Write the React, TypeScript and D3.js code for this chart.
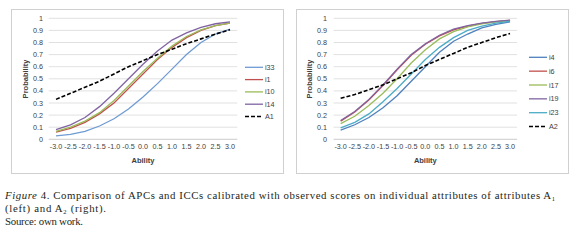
import React from "react";
import * as d3 from "d3";

const abilities = ["-3.0","-2.5","-2.0","-1.5","-1.0","-0.5","0.0","0.5","1.0","1.5","2.0","2.5","3.0"];
const yTicks = [0,0.1,0.2,0.3,0.4,0.5,0.6,0.7,0.8,0.9,1];

const i33 = [0.028,0.04,0.065,0.11,0.17,0.25,0.35,0.46,0.58,0.70,0.80,0.87,0.91];
const i1 = [0.06,0.09,0.14,0.21,0.30,0.42,0.54,0.66,0.76,0.84,0.90,0.94,0.96];
const i10 = [0.065,0.10,0.15,0.22,0.32,0.44,0.56,0.67,0.77,0.85,0.905,0.94,0.96];
const i14 = [0.08,0.12,0.18,0.27,0.38,0.50,0.62,0.73,0.82,0.88,0.925,0.955,0.97];
const A1 = [0.33,0.38,0.43,0.48,0.54,0.60,0.65,0.70,0.745,0.79,0.83,0.87,0.905];

const i4 = [0.075,0.12,0.18,0.26,0.36,0.48,0.60,0.72,0.81,0.87,0.92,0.95,0.97];
const i6 = [0.15,0.225,0.325,0.445,0.575,0.695,0.785,0.855,0.905,0.935,0.958,0.973,0.983];
const i17 = [0.13,0.19,0.28,0.38,0.50,0.63,0.74,0.83,0.89,0.93,0.955,0.97,0.98];
const i19 = [0.155,0.23,0.33,0.45,0.58,0.70,0.79,0.86,0.91,0.94,0.96,0.975,0.985];
const i23 = [0.095,0.14,0.21,0.31,0.42,0.54,0.66,0.76,0.84,0.90,0.935,0.96,0.975];
const A2 = [0.34,0.37,0.41,0.45,0.50,0.55,0.61,0.66,0.71,0.76,0.80,0.84,0.875];

type S = { name: string; values: number[]; color: string; dash?: string; width?: number };

const leftSeries: S[] = [
  { name: "i33", values: i33, color: "#6F9BD3" },
  { name: "i1", values: i1, color: "#C0504D" },
  { name: "i10", values: i10, color: "#9BBB59" },
  { name: "i14", values: i14, color: "#8064A2" },
  { name: "A1", values: A1, color: "#000000", dash: "4,2", width: 1.6 },
];
const rightSeries: S[] = [
  { name: "i4", values: i4, color: "#4F81BD" },
  { name: "i6", values: i6, color: "#C0504D" },
  { name: "i17", values: i17, color: "#9BBB59" },
  { name: "i19", values: i19, color: "#8064A2" },
  { name: "i23", values: i23, color: "#4BACC6" },
  { name: "A2", values: A2, color: "#000000", dash: "4,2", width: 1.6 },
];

const FONT = "'Liberation Sans', Arial, sans-serif";

function Chart(props: {
  fx: number; plotL: number; plotR: number; yLabX: number; probX: number;
  series: S[]; legX: number; legY0: number; legStep: number;
}) {
  const { fx, plotL, plotR, yLabX, probX, series, legX, legY0, legStep } = props;
  const x = d3.scalePoint<string>().domain(abilities).range([plotL, plotR]).padding(0.5);
  const y = d3.scaleLinear().domain([0, 1]).range([139.3, 18.3]);
  const line = d3.line<number>().x((_, i) => x(abilities[i]) as number).y((d) => y(d));
  return (
    <g>
      <rect x={fx + 0.5} y={9.5} width={272} height={164} fill="#fff" stroke="#d0d0d0" strokeWidth={1} />
      {yTicks.map((t) => (
        <g key={t}>
          <line x1={plotL} x2={plotR} y1={y(t)} y2={y(t)} stroke={t === 0 ? "#bfbfbf" : "#d9d9d9"} strokeWidth={0.8} />
          <text x={yLabX} y={y(t) + 2.5} textAnchor="end" fontSize={7.2} fill="#404040" fontFamily={FONT}>{String(t)}</text>
        </g>
      ))}
      {abilities.map((a) => (
        <text key={a} x={x(a)} y={149} textAnchor="middle" fontSize={7.2} fill="#404040" fontFamily={FONT}>{a}</text>
      ))}
      <text x={(plotL + plotR) / 2} y={163} textAnchor="middle" fontSize={7.5} fontWeight="bold" fill="#404040" fontFamily={FONT}>Ability</text>
      <text transform={`translate(${probX},79) rotate(-90)`} textAnchor="middle" fontSize={7.5} fontWeight="bold" fill="#404040" fontFamily={FONT}>Probability</text>
      {series.map((s) => (
        <path key={s.name} d={line(s.values) || ""} fill="none" stroke={s.color} strokeWidth={s.width || 1.3} strokeDasharray={s.dash} />
      ))}
      {series.map((s, i) => (
        <g key={s.name + "l"}>
          <line x1={legX} x2={legX + 18} y1={legY0 + i * legStep} y2={legY0 + i * legStep} stroke={s.color} strokeWidth={s.width || 1.3} strokeDasharray={s.dash} />
          <text x={legX + 20} y={legY0 + i * legStep + 2.5} fontSize={7.2} fill="#404040" fontFamily={FONT}>{s.name}</text>
        </g>
      ))}
    </g>
  );
}

export default function App() {
  const serif = "'Liberation Serif', 'Times New Roman', serif";
  return (
    <svg width={580} height={241} style={{ position: "absolute", left: 0, top: 0, background: "#fff" }}>
      <Chart fx={11} plotL={48.75} plotR={237.25} yLabX={43} probX={28} series={leftSeries} legX={245} legY0={67.3} legStep={12.3} />
      <Chart fx={296} plotL={333.6} plotR={517.1} yLabX={327} probX={312} series={rightSeries} legX={529} legY0={57.3} legStep={13.85} />
      <text x={5} y={199} fontSize={10.8} fill="#231f20" fontFamily={serif} textLength={550} lengthAdjust="spacing">
        <tspan fontStyle="italic">Figure</tspan> 4. Comparison of APCs and ICCs calibrated with observed scores on individual attributes of attributes A<tspan fontSize={6.5} dy={2}>1</tspan>
      </text>
      <text x={5} y={212} fontSize={10.8} fill="#231f20" fontFamily={serif} textLength={101} lengthAdjust="spacing">
        (left) and A<tspan fontSize={6.5} dy={2}>2</tspan><tspan dy={-2}> (right).</tspan>
      </text>
      <text x={5} y={225} fontSize={10.8} fill="#231f20" fontFamily={serif} textLength={78} lengthAdjust="spacing">Source: own work.</text>
    </svg>
  );
}
